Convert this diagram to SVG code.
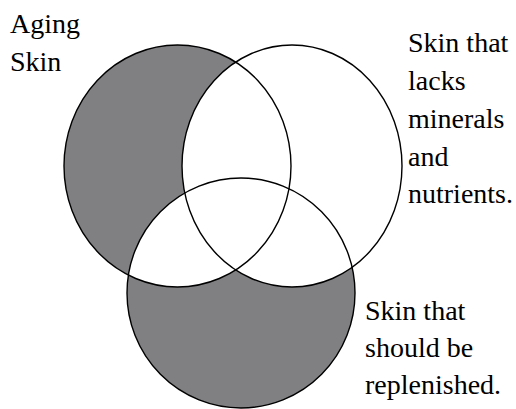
<svg xmlns="http://www.w3.org/2000/svg" xmlns:xlink="http://www.w3.org/1999/xlink" width="516" height="409" viewBox="0 0 516 409">
<style>
.outline{fill:none;stroke:#000;stroke-width:1.4}
.gray{fill:#807f82}
.white{fill:#fff}
text{font-family:'Liberation Serif','Times New Roman','DejaVu Serif',serif;font-size:28px;fill:#000}
</style>
<defs>
<ellipse id="eL" cx="177.5" cy="166" rx="113.5" ry="121"/>
<ellipse id="eR" cx="292" cy="166" rx="110" ry="121"/>
<ellipse id="eB" cx="241" cy="293" rx="114" ry="115"/>
<clipPath id="clipL"><use href="#eL" xlink:href="#eL"/></clipPath>
</defs>
<rect width="516" height="409" fill="#fff"/>
<g id="shading">
<use href="#eL" xlink:href="#eL" class="gray"/>
<use href="#eB" xlink:href="#eB" class="gray"/>
<use href="#eR" xlink:href="#eR" class="white"/>
<use href="#eB" xlink:href="#eB" class="white" clip-path="url(#clipL)"/>
</g>
<g id="aging-skin" font-family="Liberation Serif, serif" font-size="28">
<use href="#eL" xlink:href="#eL" class="outline"/>
<text x="10" y="33" font-family="Liberation Serif, serif">Aging</text>
<text x="10" y="71" font-family="Liberation Serif, serif">Skin</text>
</g>
<g id="lacks-minerals" font-family="Liberation Serif, serif" font-size="28">
<use href="#eR" xlink:href="#eR" class="outline"/>
<text x="408" y="52" font-family="Liberation Serif, serif">Skin that</text>
<text x="408" y="90" font-family="Liberation Serif, serif">lacks</text>
<text x="408" y="128" font-family="Liberation Serif, serif">minerals</text>
<text x="408" y="166" font-family="Liberation Serif, serif">and</text>
<text x="408" y="203" font-family="Liberation Serif, serif">nutrients.</text>
</g>
<g id="replenished" font-family="Liberation Serif, serif" font-size="28">
<use href="#eB" xlink:href="#eB" class="outline"/>
<text x="365" y="320" font-family="Liberation Serif, serif">Skin that</text>
<text x="365" y="357" font-family="Liberation Serif, serif">should be</text>
<text x="365" y="394" font-family="Liberation Serif, serif">replenished.</text>
</g>
<g id="connectors"/>
</svg>
